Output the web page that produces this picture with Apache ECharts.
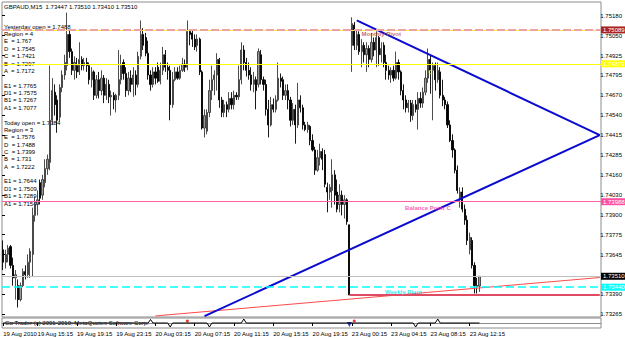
<!DOCTYPE html>
<html><head><meta charset="utf-8">
<script src="https://cdn.jsdelivr.net/npm/echarts@6/dist/echarts.min.js"></script>
<style>html,body{margin:0;padding:0;background:#fff}#c{width:625px;height:338px}</style>
</head><body><div id="c"></div><script>
// ---------- data ----------
const headerText = 'GBPAUD,M15  1.73447 1.73510 1.73410 1.73510';
// [open, close, low, high] per M15 bar
const candles = [
[1.7368,1.7360,1.7355,1.7374],[1.7360,1.7365,1.7356,1.7368],[1.7365,1.7369,1.7360,1.7371],[1.7370,1.7358,1.7356,1.7371],
[1.7358,1.7350,1.7345,1.7363],[1.7350,1.7352,1.7336,1.7355],[1.7345,1.7336,1.7331,1.7349],[1.7336,1.7345,1.7335,1.7347],
[1.7345,1.7354,1.7344,1.7356],[1.7354,1.7352,1.7349,1.7358],[1.7352,1.7360,1.7350,1.7365],[1.7360,1.7367,1.7350,1.7369],
[1.7365,1.7390,1.7351,1.7395],[1.7390,1.7397,1.7386,1.7402],[1.7397,1.7400,1.7390,1.7406],[1.7411,1.7401,1.7397,1.7413],
[1.7403,1.7413,1.7400,1.7416],[1.7411,1.7420,1.7408,1.7426],[1.7420,1.7426,1.7416,1.7429],[1.7424,1.7451,1.7419,1.7486],
[1.7451,1.7470,1.7448,1.7478],
[1.7469,1.7461,1.7454,1.7474],[1.7464,1.7451,1.7443,1.7467],[1.7453,1.7472,1.7450,1.7474],[1.7472,1.7480,1.7469,1.7483],
[1.7480,1.7488,1.7477,1.7493],[1.7486,1.7506,1.7483,1.7520],[1.7506,1.7495,1.7491,1.7509],[1.7495,1.7483,1.7480,1.7497],
[1.7483,1.7488,1.7477,1.7492],[1.7486,1.7482,1.7478,1.7491],
[1.7482,1.7490,1.7480,1.7501],[1.7490,1.7486,1.7483,1.7492],[1.7486,1.7488,1.7483,1.7491],[1.7488,1.7486,1.7482,1.7491],
[1.7486,1.7477,1.7474,1.7488],[1.7477,1.7482,1.7472,1.7485],[1.7482,1.7467,1.7464,1.7483],[1.7467,1.7477,1.7465,1.7480],
[1.7477,1.7470,1.7465,1.7482],[1.7470,1.7478,1.7467,1.7483],
[1.7478,1.7467,1.7462,1.7480],[1.7467,1.7474,1.7464,1.7478],[1.7474,1.7466,1.7462,1.7477],[1.7466,1.7467,1.7454,1.7470],
[1.7467,1.7464,1.7458,1.7469],[1.7464,1.7467,1.7456,1.7468],[1.7467,1.7477,1.7464,1.7496],[1.7477,1.7486,1.7474,1.7493],
[1.7488,1.7481,1.7477,1.7490],[1.7481,1.7470,1.7466,1.7485],
[1.7470,1.7478,1.7467,1.7482],[1.7478,1.7474,1.7469,1.7483],[1.7474,1.7480,1.7466,1.7485],[1.7480,1.7474,1.7467,1.7483],
[1.7474,1.7492,1.7472,1.7495],[1.7492,1.7506,1.7490,1.7515],[1.7506,1.7499,1.7496,1.7510],[1.7504,1.7494,1.7492,1.7507],
[1.7494,1.7480,1.7477,1.7502],[1.7480,1.7474,1.7470,1.7483],
[1.7474,1.7482,1.7472,1.7485],[1.7482,1.7478,1.7474,1.7485],[1.7485,1.7476,1.7475,1.7488],[1.7476,1.7483,1.7474,1.7488],
[1.7483,1.7493,1.7480,1.7498],[1.7493,1.7485,1.7482,1.7496],[1.7485,1.7483,1.7477,1.7488],[1.7483,1.7461,1.7451,1.7486],
[1.7461,1.7477,1.7459,1.7482],[1.7477,1.7482,1.7476,1.7485],
[1.7482,1.7478,1.7477,1.7485],[1.7478,1.7483,1.7477,1.7486],[1.7483,1.7487,1.7482,1.7491],[1.7487,1.7485,1.7482,1.7490],
[1.7485,1.7508,1.7483,1.7515],[1.7508,1.7506,1.7499,1.7509],[1.7507,1.7503,1.7498,1.7509],[1.7503,1.7498,1.7496,1.7506],
[1.7499,1.7503,1.7495,1.7506],[1.7503,1.7482,1.7480,1.7504],
[1.7482,1.7446,1.7445,1.7483],[1.7446,1.7454,1.7440,1.7458],[1.7444,1.7456,1.7442,1.7458],[1.7456,1.7470,1.7453,1.7477],
[1.7470,1.7477,1.7464,1.7486],[1.7477,1.7480,1.7467,1.7483],[1.7480,1.7490,1.7470,1.7494],[1.7490,1.7464,1.7459,1.7491],
[1.7464,1.7456,1.7453,1.7466],[1.7456,1.7461,1.7453,1.7464],
[1.7461,1.7458,1.7453,1.7463],[1.7458,1.7465,1.7456,1.7469],[1.7465,1.7461,1.7458,1.7469],[1.7461,1.7467,1.7458,1.7470],
[1.7467,1.7466,1.7464,1.7469],[1.7466,1.7477,1.7464,1.7486],[1.7477,1.7496,1.7474,1.7501],[1.7496,1.7488,1.7483,1.7499],
[1.7488,1.7483,1.7479,1.7491],[1.7483,1.7480,1.7477,1.7488],
[1.7480,1.7474,1.7470,1.7485],[1.7474,1.7477,1.7469,1.7482],[1.7477,1.7470,1.7458,1.7479],[1.7474,1.7495,1.7472,1.7497],
[1.7493,1.7477,1.7474,1.7496],[1.7477,1.7474,1.7470,1.7479],[1.7474,1.7458,1.7454,1.7477],[1.7458,1.7448,1.7440,1.7464],
[1.7448,1.7461,1.7447,1.7466],[1.7461,1.7458,1.7456,1.7465],
[1.7458,1.7464,1.7456,1.7467],[1.7464,1.7478,1.7463,1.7488],[1.7478,1.7476,1.7472,1.7481],[1.7477,1.7467,1.7464,1.7479],
[1.7467,1.7470,1.7464,1.7474],[1.7470,1.7464,1.7458,1.7474],[1.7464,1.7451,1.7447,1.7466],[1.7451,1.7458,1.7448,1.7462],
[1.7458,1.7448,1.7436,1.7461],[1.7448,1.7464,1.7446,1.7475],
[1.7464,1.7459,1.7456,1.7467],[1.7459,1.7448,1.7445,1.7461],[1.7448,1.7445,1.7444,1.7450],[1.7445,1.7448,1.7443,1.7450],
[1.7447,1.7438,1.7435,1.7448],[1.7438,1.7432,1.7431,1.7442],[1.7432,1.7419,1.7416,1.7434],[1.7419,1.7427,1.7418,1.7432],
[1.7427,1.7431,1.7422,1.7436],[1.7431,1.7426,1.7419,1.7433],
[1.7429,1.7410,1.7408,1.7432],[1.7408,1.7405,1.7392,1.7411],[1.7405,1.7408,1.7400,1.7410],[1.7406,1.7416,1.7395,1.7426],
[1.7416,1.7403,1.7397,1.7419],[1.7405,1.7394,1.7392,1.7413],[1.7397,1.7403,1.7392,1.7410],[1.7403,1.7397,1.7390,1.7406],
[1.7397,1.7400,1.7388,1.7403],[1.7400,1.7386,1.7384,1.7401],
[1.7384,1.7339,1.7339,1.7384],[1.7499,1.7513,1.7482,1.7517],[1.7512,1.7499,1.7496,1.7514],[1.7499,1.7506,1.7496,1.7509],
[1.7506,1.7495,1.7493,1.7508],[1.7495,1.7499,1.7485,1.7503],[1.7499,1.7493,1.7488,1.7501],[1.7493,1.7497,1.7482,1.7501],
[1.7497,1.7490,1.7485,1.7499],[1.7490,1.7501,1.7488,1.7507],
[1.7501,1.7496,1.7492,1.7504],[1.7496,1.7504,1.7485,1.7508],[1.7504,1.7493,1.7486,1.7505],[1.7493,1.7497,1.7488,1.7501],
[1.7499,1.7488,1.7485,1.7501],[1.7488,1.7483,1.7477,1.7493],[1.7483,1.7480,1.7477,1.7486],[1.7480,1.7483,1.7475,1.7485],
[1.7483,1.7478,1.7476,1.7486],[1.7478,1.7488,1.7477,1.7495],
[1.7488,1.7482,1.7477,1.7490],[1.7482,1.7470,1.7467,1.7483],[1.7470,1.7464,1.7458,1.7474],[1.7464,1.7459,1.7456,1.7467],
[1.7459,1.7462,1.7456,1.7464],[1.7462,1.7454,1.7450,1.7464],[1.7454,1.7461,1.7451,1.7464],[1.7461,1.7458,1.7456,1.7464],
[1.7458,1.7465,1.7445,1.7469],[1.7465,1.7462,1.7459,1.7469],
[1.7462,1.7469,1.7459,1.7472],[1.7469,1.7478,1.7467,1.7483],[1.7478,1.7490,1.7475,1.7497],[1.7490,1.7483,1.7468,1.7493],
[1.7483,1.7486,1.7451,1.7488],[1.7486,1.7477,1.7470,1.7488],[1.7477,1.7483,1.7475,1.7488],[1.7482,1.7467,1.7465,1.7485],
[1.7467,1.7464,1.7460,1.7477],[1.7464,1.7461,1.7458,1.7466],
[1.7461,1.7448,1.7446,1.7463],[1.7448,1.7438,1.7437,1.7451],[1.7438,1.7432,1.7427,1.7442],[1.7432,1.7419,1.7417,1.7433],
[1.7419,1.7406,1.7404,1.7422],[1.7400,1.7405,1.7395,1.7408],[1.7405,1.7394,1.7392,1.7408],[1.7394,1.7387,1.7384,1.7397],
[1.7387,1.7374,1.7371,1.7390],[1.7368,1.7376,1.7365,1.7379],
[1.7374,1.7358,1.7356,1.7376],[1.7358,1.7345,1.7340,1.7360],[1.7345,1.7344,1.7340,1.7350],[1.73447,1.73510,1.73410,1.73510]
];
const slotCount = 244; // bar slots incl. empty right margin
const xTickBars = [0,14,30,46,62,78,94,110,126,142,158,174,190];
const xTickLabels = ['19 Aug 2010','19 Aug 15:15','19 Aug 19:15','19 Aug 23:15','20 Aug 03:15','20 Aug 07:15','20 Aug 11:15','20 Aug 15:15','20 Aug 19:15','23 Aug 00:15','23 Aug 04:15','23 Aug 08:15','23 Aug 12:15'];
const yTickLabels = ['1.73265','1.73390','1.73520','1.73645','1.73775','1.73900','1.74030','1.74160','1.74285','1.74415','1.74540','1.74670','1.74795','1.74925','1.75050','1.75180'];
const yTicksCovered = ['1.73520']; // hidden under the bid price box in the reference
const priceMin = 1.73249, priceMax = 1.75268;
const levelValues = [1.75089, 1.74872, 1.73988, 1.73510, 1.73440];
const levelLabels = ['1.75089','1.74872','1.73988','1.73510','1.73440'];
const spikeLowValue = 1.7339, spikeLowFrom = 141;
const blueUpper = [[144, 1.7515], [243, 1.74415]];
const blueLower = [[82, 1.73255], [243, 1.74415]];
const redTrend = [[62, 1.73256], [243, 1.73502]];
const noteTexts = ['Monthly Pivot', 'Balance Point C', 'Weekly Pivot', 'C'];
const noteBars = [154, 173, 163, 174];
const notePrices = [1.7506, 1.7395, 1.7341, 1.7482];
const indicatorPts = [[0,0],[59,0],[60,0.7],[61,0],[67,0],[68,-0.8],[69,0],[83,0],[84,-0.8],[85,0],[97,0],[98,0.8],[99,0],[167,0],[168,-0.8],[169,0],[176,0],[177,0.8],[178,0],[194,0]];
const redDots = [[75,0.4],[143,0.4]];
const blueMarks = [[141,-0.3]];
const infoLines = ['Yesterday open = 1.7488','Region = 4','E  = 1.767','D  = 1.7545','C  = 1.7421','B  = 1.7297','A  = 1.7172','','E1 = 1.7765','D1 = 1.7575','B1 = 1.7267','A1 = 1.7077','','Today open = 1.7384','Region = 3','E  = 1.7576','D  = 1.7488','C  = 1.7399','B  = 1.731','A  = 1.7222','','E1 = 1.7644','D1 = 1.7509','B1 = 1.7289','A1 = 1.7154'];
const footerText = 'Go Trader (c) 2001-2010, MetaQuotes Software Corp.';

// ---------- chart ----------
const FONT = 'Liberation Sans';
const cats = Array.from({length: slotCount}, (_, i) => String(i));
const yMin = Number(yTickLabels[0]), yMax = Number(yTickLabels[yTickLabels.length - 1]);
const yStep = (yMax - yMin) / (yTickLabels.length - 1);
const boxColors = ['#a82424', '#ffff00', '#ff4fa0', '#000000', '#00ffff'];
const lineStyles = [
  {color: '#eba3a3', type: [8, 3], width: 2},
  {color: '#ffff00', type: 'solid', width: 1},
  {color: '#ff5fa8', type: 'solid', width: 1},
  {color: '#c0c0c0', type: 'solid', width: 1},
  {color: '#00ffff', type: [8, 4], width: 1.6}
];
const markLines = [{yAxis: levelValues[0], lineStyle: {color: '#ffe840', width: 1, type: 'solid'}, label: {show: false}}];
levelValues.forEach((v, k) => markLines.push({
  yAxis: v, lineStyle: lineStyles[k],
  label: {show: true, position: 'end', distance: 0, formatter: levelLabels[k], color: '#fff',
    backgroundColor: boxColors[k], fontSize: 6, fontFamily: FONT, padding: [1, 2, 0, 2]}
}));
markLines.push([{coord: [spikeLowFrom, spikeLowValue], lineStyle: {color: '#e04a62', width: 2, type: 'solid'}, label: {show: false}},
                {coord: [slotCount - 1, spikeLowValue]}]);

const noteColors = ['#b84848', '#ff3399', '#00e0ea', '#e8e800'];
const graphics = [{type: 'text', x: 4, y: 6.5, z: 0, style: {text: headerText, fill: '#000', fontSize: 6, fontFamily: FONT, verticalAlign: 'middle'}}];
infoLines.forEach((t, k) => { if (t) graphics.push({type: 'text', x: 4, y: 26.7 + k * 7.37, z: 0,
  style: {text: t, fill: '#000', fontSize: 6, fontFamily: FONT, verticalAlign: 'middle'}}); });
graphics.push({type: 'text', x: 5, y: 322.5, z: 0, style: {text: footerText, fill: '#000', fontSize: 6, fontFamily: FONT, verticalAlign: 'middle'}});

const chart = echarts.init(document.getElementById('c'), null, {renderer: 'svg'});
chart.setOption({
  animation: false,
  backgroundColor: '#fff',
  graphic: graphics,
  grid: [
    {left: 2, top: 2, width: 599, height: 315, show: true, borderColor: '#8c8c8c', borderWidth: 1, backgroundColor: 'transparent'},
    {left: 2, top: 15.7, width: 599, height: 298.6},
    {left: 2, top: 318, width: 599, height: 10, show: true, borderColor: '#8c8c8c', borderWidth: 1, backgroundColor: 'transparent'}
  ],
  xAxis: [
    {gridIndex: 0, type: 'category', data: cats, boundaryGap: true, show: false},
    {gridIndex: 1, type: 'value', min: 0, max: 1, show: false},
    {gridIndex: 2, type: 'category', data: cats, boundaryGap: true,
      axisLine: {show: true, lineStyle: {color: '#8c8c8c'}},
      axisTick: {show: true, alignWithLabel: true, length: 3, interval: (i) => xTickBars.includes(i), lineStyle: {color: '#000'}},
      axisLabel: {interval: (i) => xTickBars.includes(i), formatter: (v) => { const k = xTickBars.indexOf(Number(v)); return k >= 0 ? xTickLabels[k] : ''; },
        align: 'left', fontSize: 6, fontFamily: FONT, color: '#000', margin: 3},
      splitLine: {show: false}}
  ],
  yAxis: [
    {gridIndex: 0, type: 'value', min: priceMin, max: priceMax, show: false, splitLine: {show: false}},
    {gridIndex: 1, type: 'value', position: 'right', min: yMin, max: yMax, interval: yStep,
      axisLine: {show: false}, splitLine: {show: false},
      axisTick: {show: true, length: 3, lineStyle: {color: '#000'}},
      axisLabel: {fontSize: 6, fontFamily: FONT, color: '#000', margin: 4,
        formatter: (v) => { const t = yTickLabels[Math.round((v - yMin) / yStep)] || ''; return yTicksCovered.includes(t) ? '' : t; }}},
    {gridIndex: 2, type: 'value', min: -1, max: 1, show: false, splitLine: {show: false}}
  ],
  series: [
    {type: 'candlestick', xAxisIndex: 0, yAxisIndex: 0, data: candles, barWidth: 1.7,
      itemStyle: {color: '#9a9a9a', color0: '#000', borderColor: '#3a3a3a', borderColor0: '#000', borderWidth: 0.9},
      markLine: {silent: true, precision: 5, symbol: ['none', 'none'], animation: false, data: markLines}},
    {type: 'line', xAxisIndex: 0, yAxisIndex: 0, data: redTrend, showSymbol: false, silent: true,
      lineStyle: {color: '#ff4a4a', width: 1}, z: 3},
    {type: 'line', xAxisIndex: 0, yAxisIndex: 0, data: blueUpper, showSymbol: false, silent: true,
      lineStyle: {color: '#0a0ad0', width: 2}, z: 4},
    {type: 'line', xAxisIndex: 0, yAxisIndex: 0, data: blueLower, showSymbol: false, silent: true,
      lineStyle: {color: '#0a0ad0', width: 2}, z: 4},
    {type: 'scatter', xAxisIndex: 0, yAxisIndex: 0, symbolSize: 1, silent: true, z: 5,
      itemStyle: {color: 'rgba(0,0,0,0)'},
      data: noteTexts.map((t, k) => ({name: t, value: [noteBars[k], notePrices[k]],
        label: {show: true, position: 'inside', formatter: '{b}', color: noteColors[k], fontSize: 6, fontWeight: 'bold', fontFamily: FONT}}))},
    {type: 'line', xAxisIndex: 2, yAxisIndex: 2, data: indicatorPts, showSymbol: false, silent: true,
      lineStyle: {color: '#000', width: 1}},
    {type: 'scatter', xAxisIndex: 2, yAxisIndex: 2, data: redDots, symbolSize: 3, itemStyle: {color: '#e00000'}, silent: true},
    {type: 'scatter', xAxisIndex: 2, yAxisIndex: 2, data: blueMarks, symbol: 'triangle', symbolRotate: 180, symbolSize: 5, itemStyle: {color: '#0000c0'}, silent: true}
  ]
});
</script></body></html>
